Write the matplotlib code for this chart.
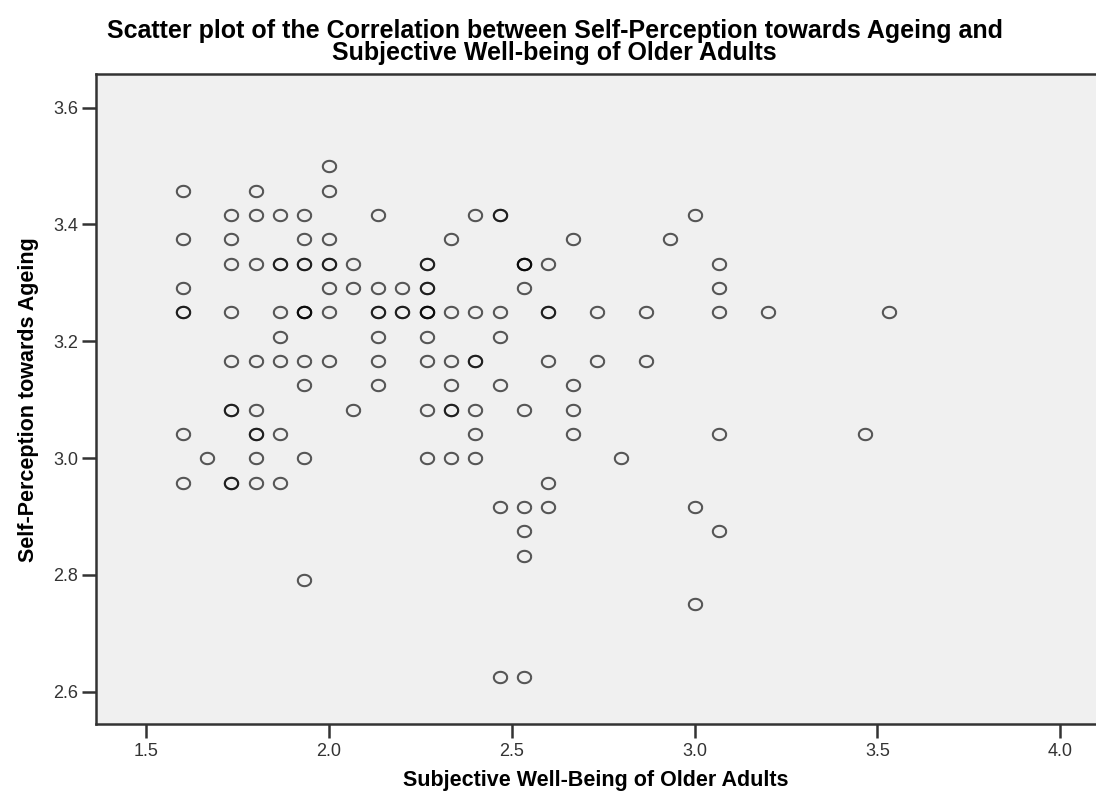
import matplotlib

matplotlib.use("Agg")
import matplotlib.pyplot as plt
import numpy as np

# Subjective well-being (x), self-perception towards ageing (y), number of
# cases drawn on the same spot (overlaps show up as darker rings)
wellbeing = [
    2.000,
    1.600, 1.800, 2.000,
    1.733, 1.800, 1.867, 1.933, 2.133, 2.400, 2.467, 3.000,
    1.600, 1.733, 1.933, 2.000, 2.333, 2.667, 2.933,
    1.733, 1.800, 1.867, 1.933, 2.000, 2.067, 2.267, 2.533, 2.600, 3.067,
    1.600, 2.000, 2.067, 2.133, 2.200, 2.267, 2.533, 3.067,
    1.600, 1.733, 1.867, 1.933, 2.000, 2.133, 2.200, 2.267, 2.333, 2.400,
    2.467, 2.600, 2.733, 2.867, 3.067, 3.200, 3.533,
    1.867, 2.133, 2.267, 2.467,
    1.733, 1.800, 1.867, 1.933, 2.000, 2.133, 2.267, 2.333, 2.400, 2.600,
    2.733, 2.867,
    1.933, 2.133, 2.333, 2.467, 2.667,
    1.733, 1.800, 2.067, 2.267, 2.333, 2.400, 2.533, 2.667,
    1.600, 1.800, 1.867, 2.400, 2.667, 3.067, 3.467,
    1.667, 1.800, 1.933, 2.267, 2.333, 2.400, 2.800,
    1.600, 1.733, 1.800, 1.867, 2.600,
    2.467, 2.533, 2.600, 3.000,
    2.533, 3.067,
    2.533,
    1.933,
    3.000,
    2.467, 2.533,
]
perception = [
    3.500,
    3.458, 3.458, 3.458,
    3.417, 3.417, 3.417, 3.417, 3.417, 3.417, 3.417, 3.417,
    3.375, 3.375, 3.375, 3.375, 3.375, 3.375, 3.375,
    3.333, 3.333, 3.333, 3.333, 3.333, 3.333, 3.333, 3.333, 3.333, 3.333,
    3.292, 3.292, 3.292, 3.292, 3.292, 3.292, 3.292, 3.292,
    3.250, 3.250, 3.250, 3.250, 3.250, 3.250, 3.250, 3.250, 3.250, 3.250,
    3.250, 3.250, 3.250, 3.250, 3.250, 3.250, 3.250,
    3.208, 3.208, 3.208, 3.208,
    3.167, 3.167, 3.167, 3.167, 3.167, 3.167, 3.167, 3.167, 3.167, 3.167,
    3.167, 3.167,
    3.125, 3.125, 3.125, 3.125, 3.125,
    3.083, 3.083, 3.083, 3.083, 3.083, 3.083, 3.083, 3.083,
    3.042, 3.042, 3.042, 3.042, 3.042, 3.042, 3.042,
    3.000, 3.000, 3.000, 3.000, 3.000, 3.000, 3.000,
    2.958, 2.958, 2.958, 2.958, 2.958,
    2.917, 2.917, 2.917, 2.917,
    2.875, 2.875,
    2.833,
    2.792,
    2.750,
    2.625, 2.625,
]
n_cases = [
    1,
    1, 1, 1,
    1, 1, 1, 1, 1, 1, 2, 1,
    1, 1, 1, 1, 1, 1, 1,
    1, 1, 2, 2, 2, 1, 2, 3, 1, 1,
    1, 1, 1, 1, 1, 2, 1, 1,
    2, 1, 1, 3, 1, 2, 2, 3, 1, 1,
    1, 2, 1, 1, 1, 1, 1,
    1, 1, 1, 1,
    1, 1, 1, 1, 1, 1, 1, 1, 2, 1,
    1, 1,
    1, 1, 1, 1, 1,
    2, 1, 1, 1, 2, 1, 1, 1,
    1, 2, 1, 1, 1, 1, 1,
    1, 1, 1, 1, 1, 1, 1,
    1, 2, 1, 1, 1,
    1, 1, 1, 1,
    1, 1,
    1,
    1,
    1,
    1, 1,
]

x_ticks = [1.5, 2.0, 2.5, 3.0, 3.5, 4.0]
y_ticks = [2.6, 2.8, 3.0, 3.2, 3.4, 3.6]

xs = np.repeat(wellbeing, n_cases)
ys = np.repeat(perception, n_cases)

plt.rcParams.update(
    {
        "font.family": ["Liberation Sans", "DejaVu Sans"],
        "axes.linewidth": 1.8,
    }
)

fig = plt.figure(figsize=(10.96, 7.92), dpi=100)
ax = fig.add_axes([0.0876, 0.0859, 0.9124, 0.8203])
ax.set_facecolor("#f0f0f0")

# SPSS draws slightly wide rings
t = np.linspace(0, 2 * np.pi, 40)
ring = np.column_stack([np.cos(t), 0.85 * np.sin(t)])
ax.plot(
    xs,
    ys,
    linestyle="none",
    marker=ring,
    markersize=9.6,
    markerfacecolor="none",
    markeredgecolor=(0, 0, 0, 0.64),
    markeredgewidth=1.5,
)

ax.set_xlim(1.363, 4.098)
ax.set_ylim(2.545, 3.657)
ax.set_xticks(x_ticks)
ax.set_yticks(y_ticks)
ax.set_xticklabels([f"{v:.1f}" for v in x_ticks])
ax.set_yticklabels([f"{v:.1f}" for v in y_ticks])
ax.tick_params(
    direction="out", length=10, width=1.8, color="#333333",
    labelsize=13, labelcolor="#333333", pad=3,
)
ax.tick_params(axis="x", pad=4)
ax.spines["right"].set_visible(False)
for s in ("left", "bottom", "top"):
    ax.spines[s].set_color("#333333")

ax.set_xlabel("Subjective Well-Being of Older Adults", fontsize=15.5,
              fontweight="bold", labelpad=7)
ax.set_ylabel("Self-Perception towards Ageing", fontsize=15.5,
              fontweight="bold", labelpad=10)

fig.text(
    0.506, 0.976,
    "Scatter plot of the Correlation between Self-Perception towards Ageing and\n"
    "Subjective Well-being of Older Adults",
    ha="center", va="top", fontsize=18, fontweight="bold",
    linespacing=0.92,
)

fig.savefig("out.png", dpi=100)
